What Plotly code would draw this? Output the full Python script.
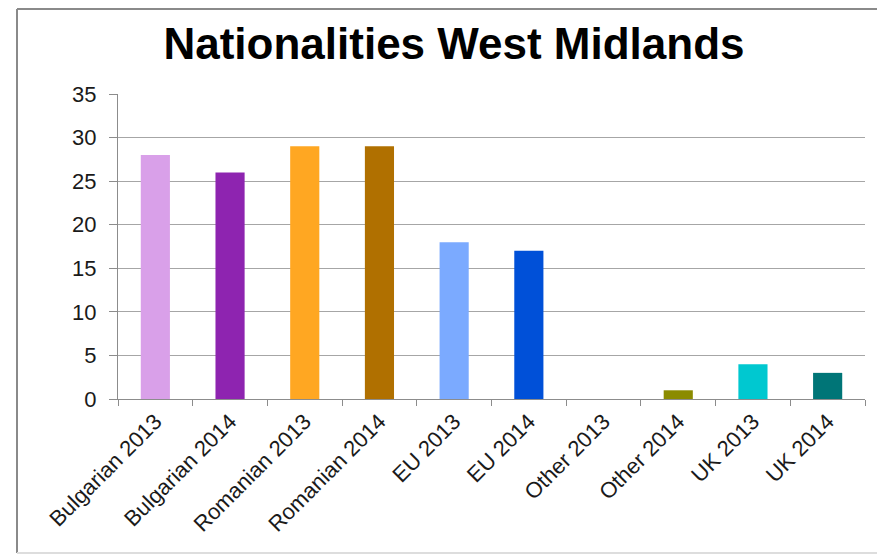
import plotly.graph_objects as go

categories = ["Bulgarian 2013", "Bulgarian 2014", "Romanian 2013", "Romanian 2014",
              "EU 2013", "EU 2014", "Other 2013", "Other 2014", "UK 2013", "UK 2014"]
values = [28, 26, 29, 29, 18, 17, 0, 1, 4, 3]
colors = ["#D9A0E9", "#8E24B0", "#FFA722", "#B07000", "#7BAAFF",
          "#0050D8", "#8B8B00", "#8B8B00", "#00C8D0", "#007577"]
y_ticks = [0, 5, 10, 15, 20, 25, 30, 35]

FONT = "Liberation Sans, Arial, sans-serif"

fig = go.Figure(go.Bar(
    x=categories, y=values, marker=dict(color=colors, line=dict(width=0)),
    width=0.39, hoverinfo="x+y",
))

# page body has an 8px offset; target screen coords are shifted by OFF
OFF = 8
W, H = 885, 554
L = 118 - OFF
T = 94 - OFF
R = W - (865 - OFF)
B = H - (399 - OFF)
pw, ph = W - L - R, H - T - B

def px_x(p):
    return (p - OFF - L) / pw

def px_y(p):
    return (H - B - (p - OFF)) / ph

gray = "#8C8C8C"
fig.update_layout(
    width=W, height=H,
    margin=dict(l=L, r=R, t=T, b=B, pad=0),
    paper_bgcolor="white", plot_bgcolor="white",
    showlegend=False, bargap=0.6,
    font=dict(family=FONT, size=22, color="#1a1a1a"),
    title=dict(text="<b>Nationalities West Midlands</b>",
               font=dict(family=FONT, size=44, color="black"),
               x=px_x(454), xref="paper", xanchor="center",
               y=1 - (44 - OFF) / H, yref="container", yanchor="middle"),
    xaxis=dict(showline=True, linecolor=gray, linewidth=1,
               ticks="outside", ticklen=6, tickcolor=gray, tickson="boundaries",
               tickangle=-45, tickfont=dict(size=22, color="#1a1a1a"),
               showgrid=False, fixedrange=True, automargin=False),
    yaxis=dict(range=[0, 35], tickvals=y_ticks, showline=True, linecolor=gray,
               linewidth=1, ticks="outside", ticklen=8, tickcolor=gray,
               showgrid=True, gridcolor="#A6A6A6", gridwidth=1,
               tickfont=dict(size=22, color="#1a1a1a"), ticklabelstandoff=8,
               zeroline=False, fixedrange=True, automargin=False),
    shapes=[
        dict(type="line", xref="paper", yref="paper",
             x0=px_x(17), x1=px_x(17), y0=px_y(9), y1=px_y(553),
             line=dict(color="#8A8A8A", width=2)),
        dict(type="line", xref="paper", yref="paper",
             x0=px_x(17), x1=px_x(900), y0=px_y(9), y1=px_y(9),
             line=dict(color="#8A8A8A", width=2)),
        dict(type="line", xref="paper", yref="paper",
             x0=px_x(17), x1=px_x(900), y0=px_y(553), y1=px_y(553),
             line=dict(color="#DDDDDD", width=2)),
    ],
)

fig.write_html("out.html")
